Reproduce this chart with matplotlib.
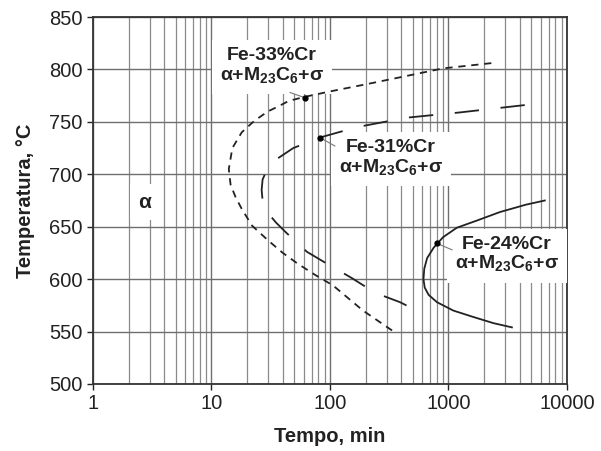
import numpy as np
import matplotlib.pyplot as plt
from matplotlib.ticker import LogLocator, FixedLocator

plt.rcParams['font.family'] = ['Liberation Sans', 'DejaVu Sans']
plt.rcParams['mathtext.fontset'] = 'custom'
plt.rcParams['mathtext.rm'] = 'Liberation Sans:bold'
plt.rcParams['mathtext.bf'] = 'Liberation Sans:bold'

# C-curves (tempo in min, temperatura in C)
t_33 = [2300, 900, 500, 205, 100, 62, 45, 37, 30, 23, 18, 15, 14, 14.5, 16, 18, 22, 30, 40, 53, 75, 106, 190, 355]
T_33 = [806, 801, 795, 786, 779, 774, 770, 765, 760, 751, 740, 725, 705, 690, 678, 667, 651, 637, 625, 615, 604, 594, 570, 549]

t_31 = [4400, 1250, 446, 169, 82, 49, 35, 29, 27, 26.5, 27, 29, 35, 43, 64, 100, 153, 240, 390, 610]
T_31 = [766, 759, 754, 745, 735, 725, 714, 703, 695, 685, 675, 665, 654, 644, 626, 613, 601, 587, 578, 567]

t_24 = [6500, 4500, 2720, 1750, 1175, 900, 750, 660, 625, 615, 630, 680, 800, 1100, 1610, 2400, 3430]
T_24 = [675, 671, 664, 656, 649, 640, 630, 620, 610, 600, 592, 585, 578, 570, 564, 558, 554]

# points where the leader lines meet the curves
mark_t = [61.5, 82, 800]
mark_T = [773, 735, 634]
lead_t = [46, 110, 1070]
lead_T = [778, 727, 628]

phase = 'α+M$_{23}$C$_{6}$+σ'
labels = ['Fe-33%Cr\n' + phase, 'Fe-31%Cr\n' + phase, 'Fe-24%Cr\n' + phase]
label_t = [32.4, 327, 3118]
label_T = [803, 715, 623]

yticks = [500, 550, 600, 650, 700, 750, 800, 850]

fig = plt.figure(figsize=(6.01, 4.51), dpi=100)
ax = fig.add_axes([0.1547, 0.1486, 0.7887, 0.8137])

ax.set_xscale('log')
ax.set_xlim(1, 10000)
ax.set_ylim(500, 850)
ax.yaxis.set_major_locator(FixedLocator(yticks))
ax.xaxis.set_minor_locator(LogLocator(base=10, subs=np.arange(2, 10), numticks=10))
ax.set_xticks([1, 10, 100, 1000, 10000])
ax.set_xticklabels(['1', '10', '100', '1000', '10000'])

ax.grid(True, which='major', color='#6f6f6f', lw=1.0, zorder=0)
ax.grid(True, which='minor', axis='x', color='#8a8a8a', lw=0.9, zorder=0)
ax.set_axisbelow(True)

ax.tick_params(which='major', direction='out', length=4, width=1, labelsize=14.5, colors='#222222')
ax.tick_params(which='minor', length=0)
for s in ax.spines.values():
    s.set_linewidth(1.3)
    s.set_color('#333333')

ax.plot(t_33, T_33, color='#222222', lw=1.3, dashes=(4.0, 3.2), zorder=4)
ax.plot(t_31, T_31, color='#222222', lw=1.3, dashes=(13.5, 12), zorder=4)
ax.plot(t_24, T_24, color='#222222', lw=1.3, zorder=4)

# label boxes hide the grid behind them
for i in range(3):
    ax.text(label_t[i], label_T[i], labels[i], ha='center', va='center',
            fontsize=14, fontweight='bold', color='#222222', linespacing=1.1,
            bbox=dict(boxstyle='square,pad=0.42', facecolor='white', edgecolor='none'), zorder=3)

# leader lines from the labels to the curves
for i in range(3):
    ax.plot([mark_t[i], lead_t[i]], [mark_T[i], lead_T[i]], color='#777777', lw=0.8, zorder=5)
ax.plot(mark_t, mark_T, 'o', color='black', ms=3.5, zorder=6)

ax.text(2.75, 673.5, 'α', ha='center', va='center', fontsize=15, fontweight='bold', color='#222222',
        bbox=dict(boxstyle='square,pad=0.4', facecolor='white', edgecolor='none'), zorder=3)

ax.set_xlabel('Tempo, min', fontsize=14.5, fontweight='bold', color='#222222', labelpad=10)
ax.set_ylabel('Temperatura, \u00b0C', fontsize=14.5, fontweight='bold', color='#222222', labelpad=10)

fig.savefig('out.png', dpi=100)
